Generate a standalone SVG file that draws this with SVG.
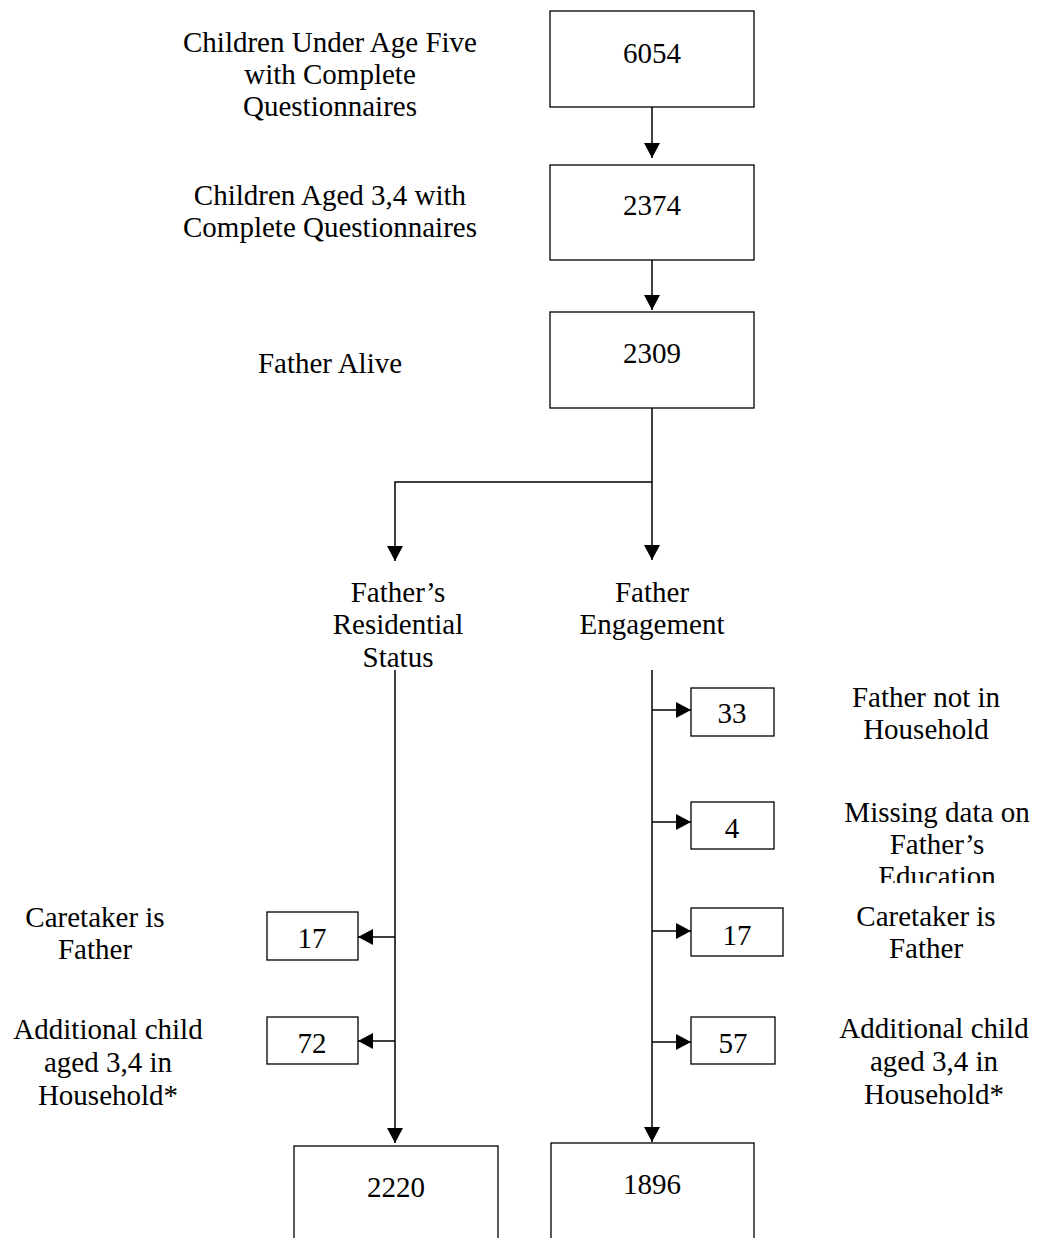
<svg xmlns="http://www.w3.org/2000/svg" width="1037" height="1238" viewBox="0 0 1037 1238">
<style>
text{font-family:"Liberation Serif","Times New Roman",serif;font-size:29px;fill:#000;text-anchor:middle}
.box{fill:#fff;stroke:#000;stroke-width:1.3}
.conn{fill:none;stroke:#000;stroke-width:1.5}
</style>
<defs>
<marker id="ah" viewBox="0 0 15 16" refX="15" refY="8" markerWidth="15" markerHeight="16" markerUnits="userSpaceOnUse" orient="auto">
<path d="M0,0 L15,8 L0,16 z" fill="#000"/>
</marker>
<clipPath id="clipEdu"><rect x="820" y="790" width="217" height="93"/></clipPath>
</defs>
<rect width="1037" height="1238" fill="#fff"/>

<g id="connectors">
<line class="conn" x1="652" y1="107" x2="652" y2="158" marker-end="url(#ah)"/>
<line class="conn" x1="652" y1="260" x2="652" y2="310" marker-end="url(#ah)"/>
<polyline class="conn" points="652,408 652,482 395,482 395,561" marker-end="url(#ah)"/>
<line class="conn" x1="652" y1="482" x2="652" y2="560" marker-end="url(#ah)"/>
<line class="conn" x1="395" y1="670" x2="395" y2="1143" marker-end="url(#ah)"/>
<line class="conn" x1="652" y1="670" x2="652" y2="1142" marker-end="url(#ah)"/>
<line class="conn" x1="395" y1="937" x2="358" y2="937" marker-end="url(#ah)"/>
<line class="conn" x1="395" y1="1041" x2="358" y2="1041" marker-end="url(#ah)"/>
<line class="conn" x1="652" y1="710" x2="691" y2="710" marker-end="url(#ah)"/>
<line class="conn" x1="652" y1="822" x2="691" y2="822" marker-end="url(#ah)"/>
<line class="conn" x1="652" y1="931" x2="691" y2="931" marker-end="url(#ah)"/>
<line class="conn" x1="652" y1="1042" x2="691" y2="1042" marker-end="url(#ah)"/>
</g>

<g id="n6054">
<rect class="box" x="550" y="11" width="204" height="96"/>
<text x="652" y="63">6054</text>
<text x="330" y="52">Children Under Age Five</text>
<text x="330" y="84">with Complete</text>
<text x="330" y="116">Questionnaires</text>
</g>
<g id="n2374">
<rect class="box" x="550" y="165" width="204" height="95"/>
<text x="652" y="215">2374</text>
<text x="330" y="205">Children Aged 3,4 with</text>
<text x="330" y="237">Complete Questionnaires</text>
</g>
<g id="n2309">
<rect class="box" x="550" y="312" width="204" height="96"/>
<text x="652" y="363">2309</text>
<text x="330" y="373">Father Alive</text>
</g>
<g id="lblResidential">
<text x="398" y="602">Father’s</text>
<text x="398" y="634">Residential</text>
<text x="398" y="667">Status</text>
</g>
<g id="lblEngagement">
<text x="652" y="602">Father</text>
<text x="652" y="634">Engagement</text>
</g>
<g id="nL17">
<rect class="box" x="267" y="912" width="91" height="48"/>
<text x="312" y="948">17</text>
<text x="95" y="927">Caretaker is</text>
<text x="95" y="959">Father</text>
</g>
<g id="nL72">
<rect class="box" x="267" y="1017" width="91" height="47"/>
<text x="312" y="1053">72</text>
<text x="108" y="1039">Additional child</text>
<text x="108" y="1072">aged 3,4 in</text>
<text x="108" y="1105">Household*</text>
</g>
<g id="nR33">
<rect class="box" x="691" y="688" width="83" height="48"/>
<text x="732" y="723">33</text>
<text x="926" y="707">Father not in</text>
<text x="926" y="739">Household</text>
</g>
<g id="nR4">
<rect class="box" x="691" y="802" width="83" height="47"/>
<text x="732" y="838">4</text>
<text x="937" y="822">Missing data on</text>
<text x="937" y="854">Father’s</text>
<text x="937" y="886" clip-path="url(#clipEdu)">Education</text>
</g>
<g id="nR17">
<rect class="box" x="691" y="908" width="92" height="48"/>
<text x="737" y="945">17</text>
<text x="926" y="926">Caretaker is</text>
<text x="926" y="958">Father</text>
</g>
<g id="nR57">
<rect class="box" x="691" y="1017" width="84" height="47"/>
<text x="733" y="1053">57</text>
<text x="934" y="1038">Additional child</text>
<text x="934" y="1071">aged 3,4 in</text>
<text x="934" y="1104">Household*</text>
</g>
<g id="n2220">
<rect class="box" x="294" y="1146" width="204" height="110"/>
<text x="396" y="1197">2220</text>
</g>
<g id="n1896">
<rect class="box" x="551" y="1143" width="203" height="110"/>
<text x="652" y="1194">1896</text>
</g>
</svg>
